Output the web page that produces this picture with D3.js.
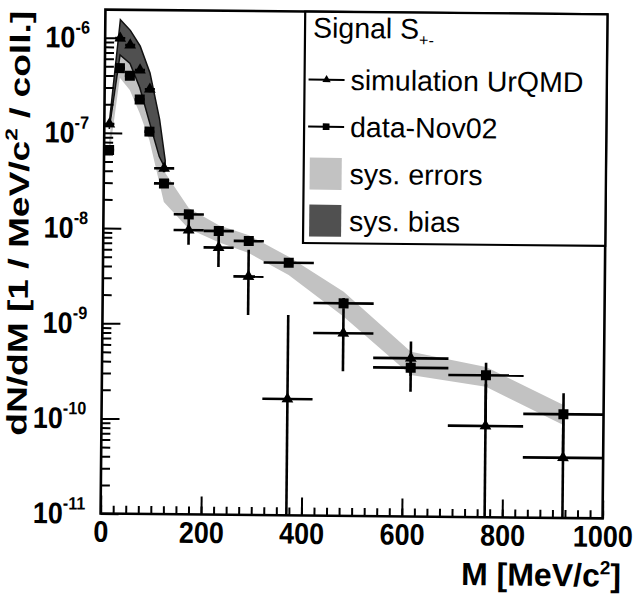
<!DOCTYPE html>
<html>
<head>
<meta charset="utf-8">
<script src="https://cdn.jsdelivr.net/npm/d3@7"></script>
<style>
  body { margin: 0; background: #fff; }
  svg { display: block; font-family: "Liberation Sans", Arial, Helvetica, sans-serif; }
</style>
</head>
<body>
<svg id="chart" width="636" height="596"></svg>
<script>
// bins in M [MeV/c^2]
const mass    = [10, 30, 50, 70, 90, 120, 170, 230, 290, 370, 480, 615, 765, 920];
const binLow  = [0, 20, 40, 60, 80, 100, 140, 200, 260, 320, 420, 540, 690, 840];
const binHigh = [20, 40, 60, 80, 100, 140, 200, 260, 320, 420, 540, 690, 840, 1000];

// simulation UrQMD (triangles)
const simValue = [1.24e-7, 9.9e-7, 8.4e-7, 4.6e-7, 2.9e-7, 4.3e-8, 9.7e-9, 6.4e-9, 3.2e-9, 1.67e-10, 8.3e-10, 4.6e-10, 9.1e-11, 4.3e-11];
const simLow   = [1.15e-7, 9.3e-7, 7.9e-7, 4.3e-7, 2.7e-7, 3.9e-8, 6.8e-9, 4.0e-9, 1.26e-9, 1e-13, 3.3e-10, 3.0e-10, 1e-13, 1e-13];
const simHigh  = [1.33e-7, 1.05e-6, 8.9e-7, 4.9e-7, 3.1e-7, 4.7e-8, 1.4e-8, 8.7e-9, 6.1e-9, 1.27e-9, 1.5e-9, 6.9e-10, 2.5e-10, 1.2e-10];

// data-Nov02 (squares)
const dataValue = [6.6e-8, 4.8e-7, 4.0e-7, 2.26e-7, 1.04e-7, 2.98e-8, 1.42e-8, 9.55e-9, 7.55e-9, 4.5e-9, 1.71e-9, 3.66e-10, 3.1e-10, 1.23e-10];
const dataLow   = [6.2e-8, 4.6e-7, 3.8e-7, 2.15e-7, 9.8e-8, 2.8e-8, 1.33e-8, 9.0e-9, 7.0e-9, 4.2e-9, 1.5e-9, 2.05e-10, 1.0e-10, 4.5e-11];
const dataHigh  = [7.0e-8, 5.0e-7, 4.2e-7, 2.37e-7, 1.1e-7, 3.15e-8, 1.5e-8, 1.0e-8, 8.1e-9, 4.8e-9, 1.95e-9, 4.6e-10, 4.2e-10, 2.04e-10];

// sys. errors band (light)
const errLow  = [5.5e-8, 3.8e-7, 2.84e-7, 1.63e-7, 8.5e-8, 1.9e-8, 1.0e-8, 7.3e-9, 5.65e-9, 3.35e-9, 1.24e-9, 3.06e-10, 2.35e-10, 9.5e-11];
const errHigh = [8.5e-8, 6.6e-7, 5.4e-7, 3.0e-7, 1.5e-7, 4.0e-8, 1.65e-8, 1.1e-8, 8.7e-9, 5.2e-9, 2.26e-9, 5.4e-10, 3.8e-10, 1.54e-10];

// sys. bias band (dark)
const biasMass = [10, 30, 50, 70, 90, 110, 122];
const biasLow  = [1.1e-7, 6.6e-7, 5.4e-7, 3.0e-7, 1.3e-7, 5.7e-8, 4.3e-8];
const biasHigh = [1.3e-7, 1.55e-6, 1.2e-6, 8.2e-7, 4.3e-7, 1.4e-7, 5.2e-8];

const xTicks = [0, 200, 400, 600, 800, 1000];
const yTicks = [1e-11, 1e-10, 1e-9, 1e-8, 1e-7, 1e-6];
const legendLabels = ["simulation UrQMD", "data-Nov02", "sys. errors", "sys. bias"];

const lightGray = "#c2c2c2";
const darkGray = "#505050";

var margin = { top: 12, right: 31, bottom: 80, left: 103 };
var width = 636 - margin.left - margin.right;   // 502
var height = 596 - margin.top - margin.bottom;  // 504

var svg = d3.select("#chart");
// the scan is turned a little clockwise
var root = svg.append("g").attr("transform", "rotate(0.55, 354, 264)");
var g = root.append("g").attr("transform", `translate(${margin.left},${margin.top})`);

var x = d3.scaleLinear().domain([0, 1000]).range([0, width]);
var y = d3.scaleLog().domain([1e-11, 1.97e-6]).range([height, 0]);

g.append("clipPath").attr("id", "frame-clip")
  .append("rect").attr("width", width).attr("height", height);
var plot = g.append("g").attr("clip-path", "url(#frame-clip)");

// bands
var errBand = mass.map((m, i) => ({ m: m, lo: errLow[i], hi: errHigh[i] }));
var biasBand = biasMass.map((m, i) => ({ m: m, lo: biasLow[i], hi: biasHigh[i] }));
var area = d3.area().x(d => x(d.m)).y0(d => y(d.lo)).y1(d => y(d.hi));

plot.append("path").attr("d", area(errBand)).attr("fill", lightGray);
plot.append("path").attr("d", area(biasBand)).attr("fill", darkGray)
  .attr("stroke", "#111").attr("stroke-width", 1.5);

// error bars + markers
function drawSeries(values, lows, highs, symbolType, size) {
  var s = plot.append("g");
  mass.forEach((m, i) => {
    s.append("line")
      .attr("x1", x(binLow[i])).attr("x2", x(binHigh[i]))
      .attr("y1", y(values[i])).attr("y2", y(values[i]))
      .attr("stroke", "#000").attr("stroke-width", 2.6);
    s.append("line")
      .attr("x1", x(m)).attr("x2", x(m))
      .attr("y1", y(lows[i])).attr("y2", y(highs[i]))
      .attr("stroke", "#000").attr("stroke-width", 2.6);
  });
  s.selectAll("path.marker")
    .data(values)
    .enter()
    .append("path")
    .attr("class", "marker")
    .attr("transform", (d, i) => `translate(${x(mass[i])},${y(d)})`)
    .attr("d", d3.symbol().type(symbolType).size(size))
    .attr("fill", "#000");
}
drawSeries(simValue, simLow, simHigh, d3.symbolTriangle, 60);
drawSeries(dataValue, dataLow, dataHigh, d3.symbolSquare, 100);

// x axis
var xMinor = d3.range(0, 1001, 25);
g.append("g")
  .attr("transform", `translate(0,${height})`)
  .call(d3.axisBottom(x).tickValues(xMinor).tickSize(-8).tickFormat(""))
  .call(a => a.select(".domain").remove())
  .selectAll("line").attr("stroke-width", 2);

var xAxis = g.append("g")
  .attr("transform", `translate(0,${height})`)
  .call(d3.axisBottom(x).tickValues(xTicks).tickSizeInner(-18).tickSizeOuter(0).tickPadding(7).tickFormat(d3.format("d")));
xAxis.select(".domain").remove();
xAxis.selectAll("line").attr("stroke-width", 2);
xAxis.selectAll("text")
  .attr("font-size", 30).attr("font-weight", "bold")
  .attr("transform", "scale(0.9,1)")
  .attr("font-family", "'Liberation Sans', Arial, sans-serif").attr("fill", "#000");

// y axis
var yMinor = [];
for (let e = -11; e < -5; e++) for (let k = 2; k <= 9; k++) {
  let v = k * Math.pow(10, e);
  if (v <= 1.97e-6) yMinor.push(v);
}
g.append("g")
  .call(d3.axisLeft(y).tickValues(yMinor).tickSize(-9).tickFormat(""))
  .call(a => a.select(".domain").remove())
  .selectAll("line").attr("stroke-width", 2);

var yAxis = g.append("g")
  .call(d3.axisLeft(y).tickValues(yTicks).tickSizeInner(-18).tickSizeOuter(0).tickPadding(17).tickFormat(""));
yAxis.select(".domain").remove();
yAxis.selectAll("line").attr("stroke-width", 2);
yAxis.selectAll("text")
  .attr("font-size", 30).attr("font-weight", "bold")
  .attr("transform", "scale(0.9,1)")
  .attr("font-family", "'Liberation Sans', Arial, sans-serif").attr("fill", "#000")
  .each(function (d) {
    var t = d3.select(this);
    t.append("tspan").text("10");
    t.append("tspan").attr("font-size", 18).attr("dy", -14).text(Math.round(Math.log10(d)));
  });

// frame
g.append("rect")
  .attr("width", width).attr("height", height)
  .attr("fill", "none").attr("stroke", "#000").attr("stroke-width", 2.6);

// axis titles
var xTitle = g.append("text")
  .attr("x", width + 19).attr("y", height + 68)
  .attr("text-anchor", "end")
  .attr("font-size", 32).attr("font-weight", "bold");
xTitle.append("tspan").text("M [MeV/c");
xTitle.append("tspan").attr("font-size", 19).attr("dy", -12).text("2");
xTitle.append("tspan").attr("dy", 12).text("]");

var yTitle = root.append("text")
  .attr("text-anchor", "end")
  .attr("font-size", 28).attr("font-weight", "bold");
yTitle.append("tspan").text("dN/dM [1 / MeV/c");
yTitle.append("tspan").attr("font-size", 17).attr("dy", -12).text("2");
yTitle.append("tspan").attr("dy", 12).text(" / coll.]");
var yLen = yTitle.node().getComputedTextLength();
yTitle.attr("transform", `translate(28,14) rotate(-90) scale(${425 / yLen},1)`);

// legend
var leg = g.append("g");
var legX = x(400) - 1, legW = width - legX, legH = 231.5;
leg.append("rect")
  .attr("x", legX).attr("y", 0).attr("width", legW).attr("height", legH)
  .attr("fill", "#fff").attr("stroke", "#000").attr("stroke-width", 2.2);

var title = leg.append("text")
  .attr("x", legX + 8).attr("y", 26)
  .attr("font-size", 28.5);
title.append("tspan").text("Signal S");
title.append("tspan").attr("font-size", 16).attr("dy", 7).text("+-");

var rowY = [68, 115, 162, 209];
var keyX = legX + 4, keyW = 36;
leg.selectAll("text.entry")
  .data(legendLabels)
  .enter()
  .append("text")
  .attr("class", "entry")
  .attr("x", legX + 46)
  .attr("y", (d, i) => rowY[i] + 10)
  .attr("font-size", 28.5)
  .text(d => d);

[0, 1].forEach(i => {
  leg.append("line")
    .attr("x1", keyX).attr("x2", keyX + keyW)
    .attr("y1", rowY[i]).attr("y2", rowY[i])
    .attr("stroke", "#000").attr("stroke-width", 2);
  leg.append("path")
    .attr("transform", `translate(${keyX + keyW / 2},${rowY[i]})`)
    .attr("d", d3.symbol().type(i === 0 ? d3.symbolTriangle : d3.symbolSquare).size(i === 0 ? 30 : 45))
    .attr("fill", "#000");
});
leg.append("rect")
  .attr("x", keyX + 2).attr("y", rowY[2] - 16).attr("width", 32).attr("height", 32)
  .attr("fill", lightGray);
leg.append("rect")
  .attr("x", keyX + 2).attr("y", rowY[3] - 16).attr("width", 32).attr("height", 32)
  .attr("fill", darkGray);
</script>
</body>
</html>
